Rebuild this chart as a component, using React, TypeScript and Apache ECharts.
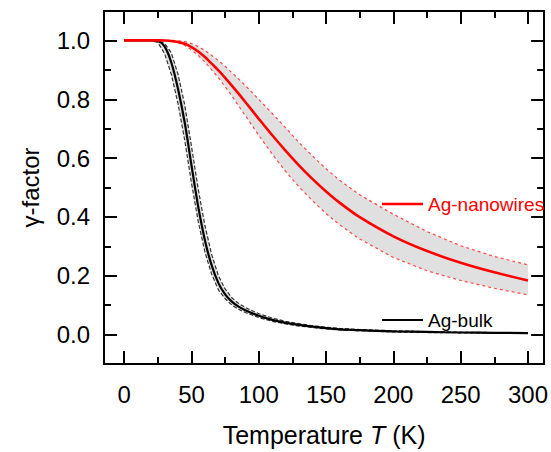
import React, { useEffect, useRef } from "react";
import * as echarts from "echarts";

const temps = [0, 10, 20, 25, 30, 35, 40, 45, 50, 55, 60, 65, 70, 75, 80, 85, 90, 100, 110, 120, 130, 140, 150, 160, 175, 200, 225, 250, 275, 300];

const bulk = [1, 1, 1, 0.998, 0.98, 0.925, 0.835, 0.72, 0.575, 0.435, 0.32, 0.235, 0.175, 0.137, 0.112, 0.095, 0.083, 0.064, 0.05, 0.04, 0.033, 0.027, 0.022, 0.018, 0.015, 0.011, 0.009, 0.007, 0.006, 0.005];
const bulkUpper = [1, 1, 1, 1, 0.99, 0.958, 0.885, 0.78, 0.64, 0.495, 0.37, 0.272, 0.2, 0.155, 0.125, 0.106, 0.092, 0.071, 0.056, 0.045, 0.037, 0.03, 0.025, 0.021, 0.017, 0.013, 0.01, 0.008, 0.007, 0.006];
const bulkLower = [1, 1, 1, 0.993, 0.955, 0.885, 0.785, 0.66, 0.515, 0.385, 0.28, 0.205, 0.152, 0.122, 0.1, 0.086, 0.075, 0.058, 0.045, 0.036, 0.029, 0.024, 0.019, 0.016, 0.013, 0.009, 0.007, 0.006, 0.005, 0.004];

const nano = [1, 1, 1, 1, 0.9995, 0.998, 0.9945, 0.9885, 0.9775, 0.9625, 0.9435, 0.921, 0.8985, 0.873, 0.8465, 0.819, 0.7905, 0.7335, 0.6775, 0.6245, 0.5745, 0.5285, 0.4865, 0.4485, 0.399, 0.334, 0.284, 0.244, 0.2115, 0.184];
const nanoUpper = [1, 1, 1, 1, 1, 1, 0.999, 0.996, 0.9895, 0.979, 0.9655, 0.949, 0.9315, 0.912, 0.8905, 0.869, 0.8465, 0.7995, 0.7515, 0.7025, 0.6525, 0.6065, 0.5635, 0.5245, 0.475, 0.409, 0.35, 0.302, 0.2655, 0.237];
const nanoLower = [1, 1, 1, 1, 1, 0.997, 0.992, 0.983, 0.9675, 0.949, 0.9265, 0.9, 0.8735, 0.843, 0.8115, 0.778, 0.7445, 0.6775, 0.6135, 0.5545, 0.5015, 0.4545, 0.4115, 0.3735, 0.325, 0.262, 0.217, 0.184, 0.1575, 0.135];

const xMajorTicks = [0, 50, 100, 150, 200, 250, 300];
const xMinorTicks = [25, 75, 125, 175, 225, 275];
const yMajorTicks = [0, 0.2, 0.4, 0.6, 0.8, 1.0];
const yMinorTicks = [0.1, 0.3, 0.5, 0.7, 0.9];

const xName = "Temperature {i|T} (K)";
const yName = "γ-factor";
const legendNano = "Ag-nanowires";
const legendBulk = "Ag-bulk";

const FONT = "'Liberation Sans', Arial, Helvetica, sans-serif";

function pairs(ys: number[]) {
  return temps.map((t, i) => [t, ys[i]]);
}

export default function App() {
  const ref = useRef<HTMLDivElement>(null);
  useEffect(() => {
    document.body.style.margin = "0";
    if (!ref.current) return;
    const chart = echarts.init(ref.current, null, { renderer: "svg" });

    const XMIN = -15, XMAX = 312, YMIN = -0.1, YMAX = 1.1;
    const lineW = 2;

    const baseX = (pos: "bottom" | "top", ticks: number[], len: number, labels: boolean, name?: boolean) => ({
      type: "value",
      position: pos,
      min: XMIN,
      max: XMAX,
      z: 10,
      axisLine: { show: true, onZero: false, lineStyle: { color: "#000", width: lineW } },
      axisTick: { show: true, inside: true, length: len, customValues: ticks, lineStyle: { color: "#000", width: lineW } },
      axisLabel: labels
        ? { show: true, customValues: ticks, fontSize: 24, color: "#000", fontFamily: FONT, margin: 18 }
        : { show: false },
      splitLine: { show: false },
      name: name ? xName : "",
      nameLocation: "middle",
      nameGap: 58,
      nameTextStyle: {
        fontSize: 25,
        color: "#000",
        fontFamily: FONT,
        rich: { i: { fontStyle: "italic", fontSize: 25, color: "#000", fontFamily: FONT } },
      },
    });

    const baseY = (pos: "left" | "right", ticks: number[], len: number, labels: boolean, name?: boolean) => ({
      type: "value",
      position: pos,
      min: YMIN,
      max: YMAX,
      z: 10,
      axisLine: { show: true, onZero: false, lineStyle: { color: "#000", width: lineW } },
      axisTick: { show: true, inside: true, length: len, customValues: ticks, lineStyle: { color: "#000", width: lineW } },
      axisLabel: labels
        ? {
            show: true,
            customValues: ticks,
            fontSize: 24,
            color: "#000",
            fontFamily: FONT,
            margin: 14,
            formatter: (v: number) => v.toFixed(1),
          }
        : { show: false },
      splitLine: { show: false },
      name: name ? yName : "",
      nameLocation: "middle",
      nameGap: 62,
      nameTextStyle: { fontSize: 24, color: "#000", fontFamily: FONT },
    });

    const band = (upper: number[], lower: number[], color: string) => ({
      type: "custom",
      silent: true,
      clip: true,
      data: [[0, 0]],
      renderItem: (_params: any, api: any) => {
        const pts: number[][] = [];
        for (let i = 0; i < temps.length; i++) pts.push(api.coord([temps[i], upper[i]]));
        for (let i = temps.length - 1; i >= 0; i--) pts.push(api.coord([temps[i], lower[i]]));
        return { type: "polygon", shape: { points: pts }, style: { fill: color, stroke: "none" } };
      },
    });

    const line = (ys: number[], color: string, width: number, type: any, smooth: number | boolean) => ({
      type: "line",
      data: pairs(ys),
      symbol: "none",
      smooth,
      lineStyle: { width, color, type },
      silent: true,
    });

    chart.setOption({
      animation: false,
      grid: { left: 104, top: 11, right: 6, bottom: 83, containLabel: false },
      xAxis: [
        baseX("bottom", xMajorTicks, 13, true, true),
        baseX("bottom", xMinorTicks, 7, false),
        baseX("top", xMajorTicks, 13, false),
        baseX("top", xMinorTicks, 7, false),
      ],
      yAxis: [
        baseY("left", yMajorTicks, 13, true, true),
        baseY("left", yMinorTicks, 7, false),
        baseY("right", yMajorTicks, 13, false),
        baseY("right", yMinorTicks, 7, false),
      ],
      series: [
        band(nanoUpper, nanoLower, "#e0e0e0"),
        band(bulkUpper, bulkLower, "#e0e0e0"),
        line(nanoUpper, "#ff4a4a", 1.2, [3, 3], false),
        line(nanoLower, "#ff4a4a", 1.2, [3, 3], false),
        line(bulkUpper, "#333333", 1.2, [4, 2], false),
        line(bulkLower, "#333333", 1.2, [4, 2], false),
        line(bulk, "#000000", 2.2, "solid", 0.3),
        line(nano, "#ff0000", 2.6, "solid", 0.3),
      ],
      graphic: [
        { type: "line", z: 20, shape: { x1: 382, y1: 204, x2: 423, y2: 204 }, style: { stroke: "#ff0000", lineWidth: 2.6 } },
        { type: "text", z: 20, x: 428, y: 204, style: { text: legendNano, fill: "#ff0000", font: `19px ${FONT}`, textVerticalAlign: "middle" } },
        { type: "line", z: 20, shape: { x1: 382, y1: 320, x2: 423, y2: 320 }, style: { stroke: "#000000", lineWidth: 2.2 } },
        { type: "text", z: 20, x: 428, y: 320, style: { text: legendBulk, fill: "#000000", font: `19px ${FONT}`, textVerticalAlign: "middle" } },
      ],
    });
    return () => chart.dispose();
  }, []);
  return <div ref={ref} style={{ width: 551, height: 452 }} />;
}
